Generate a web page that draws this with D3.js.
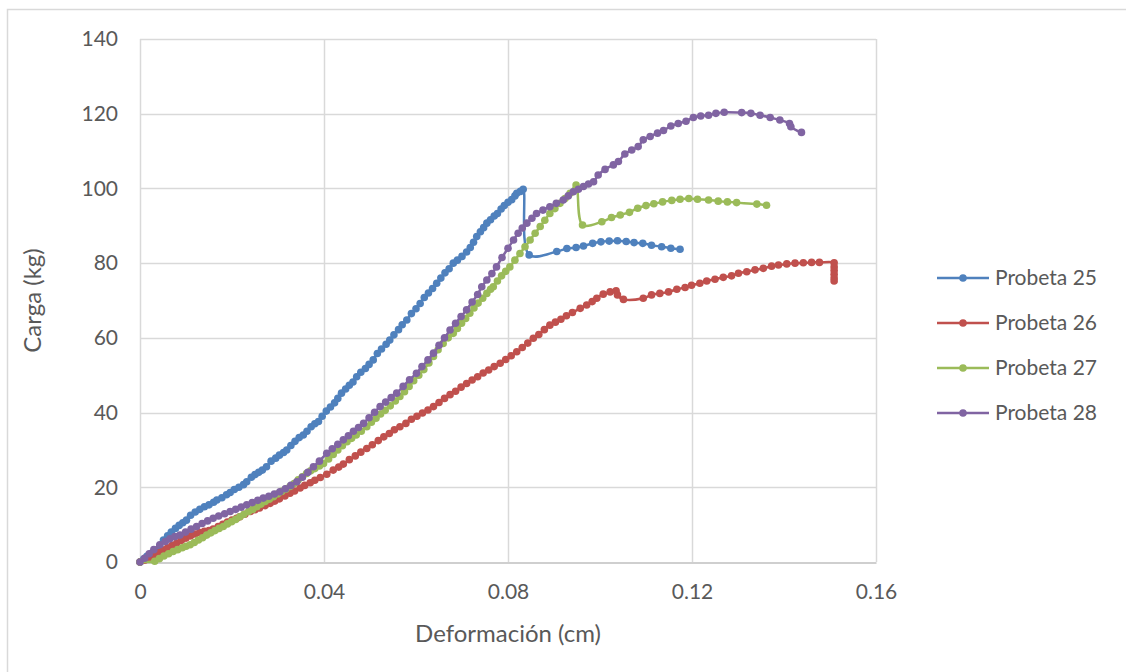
<!DOCTYPE html>
<html>
<head>
<meta charset="utf-8">
<script src="https://cdn.jsdelivr.net/npm/d3@7"></script>
<style>
  html, body { margin: 0; padding: 0; background: #fff; }
  svg { display: block; }
  text { font-family: Lato, "Open Sans", sans-serif; fill: #595959; }
</style>
</head>
<body>
<svg id="chart" width="1126" height="672"></svg>
<script>
// Load test results: deformation (cm) vs load (kg) for four specimens
const seriesNames = ["Probeta 25", "Probeta 26", "Probeta 27", "Probeta 28"];
const seriesColors = ["#4F81BD", "#C0504D", "#9BBB59", "#8064A2"];

const xTicks = [0, 0.04, 0.08, 0.12, 0.16];
const xTickLabels = ["0", "0.04", "0.08", "0.12", "0.16"];
const yTicks = [0, 20, 40, 60, 80, 100, 120, 140];

const probeta25 = [
  [0,0],[0.0008,0.8],[0.0015,1.5],[0.0025,2.3],[0.0035,3.2],[0.0043,4.2],[0.0051,5.9],[0.0060,7.0],
  [0.0068,8.0],[0.0077,9.0],[0.0085,9.8],[0.0093,10.5],[0.0101,11.2],[0.0110,12.5],[0.0120,13.4],
  [0.0130,14.1],[0.0140,14.8],[0.0150,15.3],[0.0160,16.0],[0.0167,16.6],[0.0178,17.2],[0.0188,18.0],
  [0.0196,18.6],[0.0205,19.4],[0.0215,20.0],[0.0225,20.7],[0.0232,21.5],[0.0242,22.7],[0.0250,23.4],
  [0.0258,24.0],[0.0266,24.6],[0.0275,25.5],[0.0285,27.0],[0.0295,27.8],[0.0303,28.6],[0.0312,29.3],
  [0.0319,30.0],[0.0328,31.2],[0.0337,32.3],[0.0346,33.3],[0.0355,34.0],[0.0363,35.0],[0.0372,36.2],
  [0.0380,37.0],[0.0388,37.6],[0.0396,39.0],[0.0405,40.4],[0.0414,41.5],[0.0423,42.6],[0.0430,43.8],
  [0.0438,45.2],[0.0447,46.3],[0.0455,47.3],[0.0463,48.2],[0.0471,49.6],[0.0480,50.8],[0.0490,51.8],
  [0.0498,52.9],[0.0507,54.1],[0.0516,55.8],[0.0525,57.0],[0.0535,58.3],[0.0543,59.4],[0.0552,60.8],
  [0.0562,62.2],[0.0570,63.5],[0.0580,64.8],[0.0590,66.5],[0.0600,67.8],[0.0609,69.2],[0.0618,70.8],
  [0.0627,72.0],[0.0636,73.2],[0.0645,74.6],[0.0654,76.0],[0.0663,77.4],[0.0672,78.5],[0.0681,80.0],
  [0.0690,80.8],[0.0700,81.8],[0.0710,83.0],[0.0718,84.2],[0.0725,85.6],[0.0732,87.1],[0.0740,88.4],
  [0.0747,89.5],[0.0754,90.7],[0.0762,91.6],[0.0770,92.6],[0.0777,93.3],[0.0785,94.5],[0.0792,95.4],
  [0.0800,96.3],[0.0808,97.0],[0.0815,98.0],[0.0819,98.7],[0.0827,99.2],[0.0833,99.8],
  [0.0846,82.2],[0.0906,83.1],[0.0928,83.9],[0.0948,84.2],[0.0964,84.6],[0.0984,85.3],[0.1002,85.7],
  [0.1020,85.9],[0.1038,86.0],[0.1057,85.8],[0.1074,85.5],[0.1093,85.3],[0.1112,84.8],[0.1134,84.4],
  [0.1154,84.0],[0.1174,83.7]
];

const probeta26 = [
  [0,0],[0.0010,0.5],[0.0020,1.2],[0.0030,1.8],[0.0040,2.5],[0.0050,3.2],[0.0060,3.8],[0.0070,4.5],
  [0.0080,5.1],[0.0090,5.8],[0.0100,6.4],[0.0110,7.0],[0.0120,7.5],[0.0130,7.9],[0.0140,8.2],
  [0.0150,8.4],[0.0159,8.8],[0.0170,9.5],[0.0180,10.1],[0.0190,10.7],[0.0200,11.2],[0.0210,11.7],
  [0.0217,12.1],[0.0228,12.8],[0.0240,13.5],[0.0250,14.0],[0.0260,14.5],[0.0272,15.1],[0.0283,15.7],
  [0.0293,16.3],[0.0303,16.9],[0.0315,17.7],[0.0326,18.4],[0.0336,19.0],[0.0348,19.8],[0.0358,20.5],
  [0.0370,21.2],[0.0380,21.9],[0.0392,22.6],[0.0406,23.5],[0.0420,24.6],[0.0432,25.4],[0.0442,26.2],
  [0.0455,27.4],[0.0468,28.4],[0.0480,29.4],[0.0493,30.4],[0.0505,31.4],[0.0518,32.5],[0.0530,33.5],
  [0.0542,34.4],[0.0553,35.4],[0.0565,36.2],[0.0578,37.1],[0.0590,38.2],[0.0602,39.0],[0.0614,39.9],
  [0.0626,40.7],[0.0638,41.6],[0.0650,42.7],[0.0662,43.8],[0.0674,44.8],[0.0686,45.7],[0.0698,46.8],
  [0.0710,47.8],[0.0722,48.7],[0.0734,49.6],[0.0746,50.6],[0.0758,51.4],[0.0770,52.3],[0.0783,53.2],
  [0.0795,54.2],[0.0807,55.2],[0.0819,56.3],[0.0831,57.4],[0.0843,58.6],[0.0855,59.9],[0.0867,60.9],
  [0.0879,62.2],[0.0891,63.4],[0.0903,64.2],[0.0915,65.0],[0.0927,65.9],[0.0940,66.8],[0.0957,67.9],
  [0.0971,68.8],[0.0983,69.7],[0.0993,70.6],[0.1007,71.7],[0.1022,72.3],[0.1035,72.6],[0.1038,71.5],
  [0.1051,70.3],[0.1094,70.6],[0.1112,71.5],[0.1130,71.9],[0.1149,72.3],[0.1167,73.0],[0.1185,73.5],
  [0.1199,74.1],[0.1217,74.6],[0.1232,75.2],[0.1250,75.7],[0.1268,76.2],[0.1286,76.6],[0.1301,77.3],
  [0.1319,77.7],[0.1337,78.2],[0.1355,78.6],[0.1373,79.2],[0.1388,79.5],[0.1406,79.8],[0.1424,80.0],
  [0.1442,80.1],[0.1460,80.2],[0.1477,80.2],[0.1509,80.1],[0.1509,79.0],[0.1509,78.0],[0.1509,77.0],
  [0.1509,76.0],[0.1509,75.2]
];

const probeta27 = [
  [0,0],[0.0032,0.2],[0.0042,0.9],[0.0052,1.6],[0.0062,2.2],[0.0072,2.8],[0.0082,3.3],[0.0092,3.8],
  [0.0100,4.2],[0.0109,4.6],[0.0118,5.2],[0.0127,5.9],[0.0136,6.5],[0.0145,7.2],[0.0154,7.8],
  [0.0163,8.4],[0.0172,9.0],[0.0181,9.5],[0.0190,10.2],[0.0199,10.8],[0.0208,11.4],[0.0217,12.1],
  [0.0226,12.8],[0.0236,13.5],[0.0245,14.1],[0.0254,14.8],[0.0263,15.5],[0.0272,16.2],[0.0281,16.8],
  [0.0290,17.5],[0.0299,18.2],[0.0308,18.9],[0.0317,19.5],[0.0326,20.2],[0.0335,21.0],[0.0344,22.0],
  [0.0353,22.8],[0.0362,23.7],[0.0371,24.4],[0.0380,25.0],[0.0390,25.7],[0.0399,26.4],[0.0410,27.6],
  [0.0420,28.8],[0.0430,30.0],[0.0440,31.1],[0.0450,32.2],[0.0460,33.1],[0.0470,34.0],[0.0481,35.0],
  [0.0493,36.2],[0.0503,37.4],[0.0513,38.5],[0.0523,39.6],[0.0533,40.6],[0.0544,41.8],[0.0555,43.1],
  [0.0565,44.3],[0.0575,45.6],[0.0585,47.0],[0.0595,48.5],[0.0606,50.0],[0.0617,51.5],[0.0628,53.3],
  [0.0638,55.0],[0.0648,56.8],[0.0659,58.5],[0.0670,60.0],[0.0681,61.2],[0.0690,62.5],[0.0699,63.9],
  [0.0708,65.2],[0.0717,66.6],[0.0726,68.0],[0.0735,69.3],[0.0745,70.6],[0.0754,71.9],[0.0762,73.0],
  [0.0768,73.7],[0.0777,75.2],[0.0786,76.6],[0.0795,77.8],[0.0804,79.0],[0.0815,80.8],[0.0826,82.6],
  [0.0837,84.4],[0.0848,86.2],[0.0859,88.0],[0.0870,89.8],[0.0880,91.5],[0.0891,93.3],[0.0902,94.6],
  [0.0913,96.0],[0.0924,97.3],[0.0935,98.7],[0.0948,100.9],
  [0.0962,90.2],[0.1004,91.1],[0.1025,92.2],[0.1044,92.9],[0.1064,93.6],[0.1082,94.7],[0.1100,95.4],
  [0.1117,95.9],[0.1136,96.4],[0.1156,96.8],[0.1174,97.1],[0.1193,97.3],[0.1212,97.1],[0.1236,96.9],
  [0.1257,96.6],[0.1277,96.4],[0.1297,96.2],[0.1341,95.8],[0.1362,95.5]
];

const probeta28 = [
  [0,0],[0.0010,1.0],[0.0020,2.2],[0.0030,3.3],[0.0043,4.6],[0.0055,5.5],[0.0065,6.2],[0.0076,6.8],
  [0.0087,7.2],[0.0099,8.0],[0.0111,8.8],[0.0123,9.5],[0.0135,10.3],[0.0147,11.0],[0.0159,11.7],
  [0.0171,12.3],[0.0184,12.9],[0.0196,13.5],[0.0208,14.1],[0.0220,14.7],[0.0232,15.3],[0.0244,15.9],
  [0.0256,16.5],[0.0268,17.1],[0.0280,17.6],[0.0292,18.2],[0.0304,18.8],[0.0316,19.6],[0.0328,20.5],
  [0.0341,21.5],[0.0353,22.7],[0.0365,24.0],[0.0377,25.5],[0.0390,27.0],[0.0406,29.1],[0.0418,30.3],
  [0.0430,31.5],[0.0442,32.7],[0.0453,33.8],[0.0464,35.0],[0.0475,36.0],[0.0486,37.1],[0.0498,38.6],
  [0.0510,40.1],[0.0522,41.6],[0.0534,42.8],[0.0546,44.0],[0.0558,45.2],[0.0572,47.0],[0.0586,48.8],
  [0.0601,50.5],[0.0613,52.3],[0.0626,54.1],[0.0638,55.9],[0.0650,58.0],[0.0662,60.0],[0.0674,62.1],
  [0.0686,63.9],[0.0698,65.7],[0.0710,67.5],[0.0722,69.6],[0.0734,71.6],[0.0743,73.7],[0.0754,75.5],
  [0.0765,77.2],[0.0775,79.0],[0.0787,81.5],[0.0800,84.0],[0.0812,86.2],[0.0822,88.0],[0.0831,89.4],
  [0.0841,90.7],[0.0852,92.0],[0.0862,93.3],[0.0876,94.2],[0.0891,95.1],[0.0905,96.0],[0.0920,96.9],
  [0.0931,98.0],[0.0942,99.1],[0.0953,99.8],[0.0964,100.5],[0.0975,101.2],[0.0986,101.8],[0.0996,103.6],
  [0.1011,105.1],[0.1029,106.3],[0.1040,107.2],[0.1054,109.2],[0.1069,110.3],[0.1083,111.2],[0.1094,113.0],
  [0.1109,113.9],[0.1125,114.8],[0.1138,115.5],[0.1154,116.7],[0.1170,117.4],[0.1187,118.0],[0.1203,119.0],
  [0.1219,119.4],[0.1236,119.6],[0.1252,120.1],[0.1270,120.4],[0.1308,120.3],[0.1328,120.1],[0.1348,119.6],
  [0.1370,119.0],[0.1391,118.3],[0.1412,117.4],[0.1415,116.5],[0.1438,115.0]
];

const seriesData = [probeta25, probeta26, probeta27, probeta28];

const svg = d3.select("#chart");
const plot = { left: 140, right: 876, top: 39, bottom: 562 };

const x = d3.scaleLinear().domain([0, 0.16]).range([plot.left, plot.right]);
const y = d3.scaleLinear().domain([0, 140]).range([plot.bottom, plot.top]);

// Chart area frame
svg.append("rect")
  .attr("x", 7.5).attr("y", 9.5)
  .attr("width", 1200).attr("height", 800)
  .attr("fill", "#fff").attr("stroke", "#d9d9d9").attr("stroke-width", 1.5);

// Gridlines
const grid = svg.append("g");
grid.selectAll("line.h").data(yTicks.filter(d => d > 0)).join("line")
  .attr("x1", plot.left).attr("x2", plot.right)
  .attr("y1", d => Math.round(y(d)) + 0.5).attr("y2", d => Math.round(y(d)) + 0.5)
  .attr("stroke", "#d9d9d9").attr("stroke-width", 1.5);
grid.selectAll("line.v").data(xTicks).join("line")
  .attr("y1", plot.top).attr("y2", plot.bottom)
  .attr("x1", d => Math.round(x(d)) + 0.5).attr("x2", d => Math.round(x(d)) + 0.5)
  .attr("stroke", "#d9d9d9").attr("stroke-width", 1.5);

// X axis
const xAxis = svg.append("g")
  .attr("transform", `translate(0,${plot.bottom + 0.5})`)
  .call(d3.axisBottom(x).tickValues(xTicks).tickFormat((d, i) => xTickLabels[i]).tickSize(0).tickPadding(22));
xAxis.select(".domain").attr("stroke", "#bfbfbf").attr("stroke-width", 1.5);
xAxis.selectAll("text").attr("font-size", 21).style("font-family", "Lato").attr("fill", "#595959");

// Y axis (labels only)
const yAxis = svg.append("g")
  .attr("transform", `translate(${plot.left},0)`)
  .call(d3.axisLeft(y).tickValues(yTicks).tickFormat(d3.format("d")).tickSize(0).tickPadding(22));
yAxis.select(".domain").remove();
yAxis.selectAll("text").attr("font-size", 21).style("font-family", "Lato").attr("fill", "#595959");

// Axis titles
svg.append("text")
  .attr("x", x(0.08)).attr("y", 642)
  .attr("text-anchor", "middle").attr("font-size", 24)
  .text("Deformación (cm)");
svg.append("text")
  .attr("transform", `translate(41,${(plot.top + plot.bottom) / 2}) rotate(-90)`)
  .attr("text-anchor", "middle").attr("font-size", 24)
  .text("Carga (kg)");

// Series
const line = d3.line()
  .x(d => x(d[0])).y(d => y(d[1]))
  .curve(d3.curveCatmullRom.alpha(0.5));

const seriesG = svg.append("g");
seriesData.forEach((data, i) => {
  const g = seriesG.append("g");
  g.append("path")
    .datum(data)
    .attr("d", line)
    .attr("fill", "none")
    .attr("stroke", seriesColors[i])
    .attr("stroke-width", 2.5)
    .attr("stroke-linejoin", "round");
  g.selectAll("circle").data(data).join("circle")
    .attr("cx", d => x(d[0])).attr("cy", d => y(d[1]))
    .attr("r", 3.8)
    .attr("fill", seriesColors[i]);
});

// Legend
const legend = svg.append("g").attr("transform", "translate(937,278)");
seriesNames.forEach((name, i) => {
  const row = legend.append("g").attr("transform", `translate(0,${i * 45})`);
  row.append("line").attr("x1", 0).attr("x2", 52).attr("y1", 0).attr("y2", 0)
    .attr("stroke", seriesColors[i]).attr("stroke-width", 2.5);
  row.append("circle").attr("cx", 26).attr("cy", 0).attr("r", 3.8).attr("fill", seriesColors[i]);
  row.append("text").attr("x", 58).attr("y", 0).attr("dy", "0.35em")
    .attr("font-size", 21).text(name);
});
</script>
</body>
</html>
